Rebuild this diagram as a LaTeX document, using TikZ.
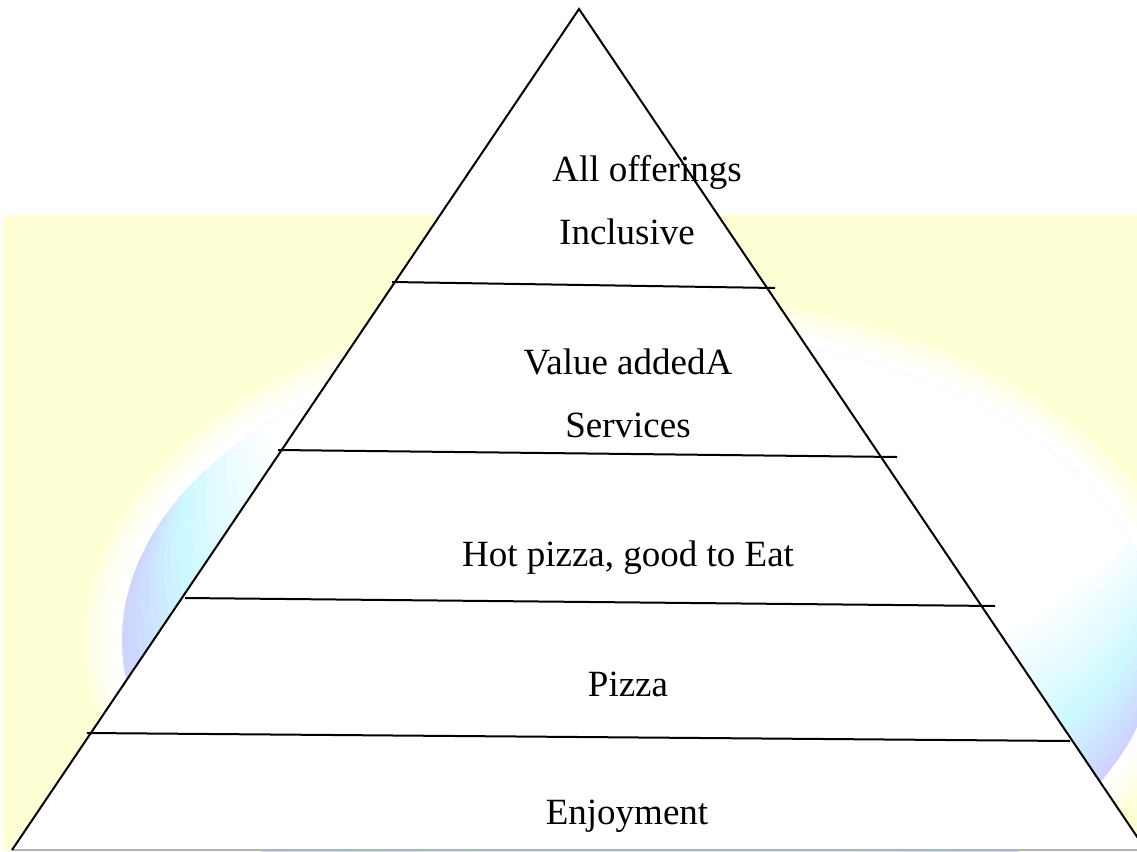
\documentclass[tikz,border=0pt]{standalone}
\usepackage{fontspec}
\setmainfont{Liberation Serif}
\usepackage{tikz}

\definecolor{paleyellow}{RGB}{255,255,214}
\definecolor{globecyan}{RGB}{204,248,255}
\definecolor{globeblue}{RGB}{206,212,255}

\begin{document}
\begin{tikzpicture}[x=1pt, y=-1pt,
    tier/.style={font=\fontsize{37}{44}\selectfont, anchor=base, inner sep=0pt},
    rule/.style={line width=2pt, black}]
    \useasboundingbox (0,0) rectangle (1137,851);
    \clip (0,0) rectangle (1137,851);

    % backdrop
    \fill[paleyellow] (3,215) rectangle (1137,851);
    \foreach \k in {1,...,6}
        \fill[white, opacity=0.25] (640,640) ellipse [x radius={530+4*\k}, y radius={320+4*\k}];
    \fill[white] (640,640) ellipse [x radius=530, y radius=320];
    \begin{scope}
        \clip (640,640) ellipse [x radius=518, y radius=310];
        \foreach \k in {0,...,20} {
            \pgfmathsetmacro{\t}{\k/20}
            \pgfmathsetmacro{\cx}{640+80*\t}
            \pgfmathsetmacro{\cy}{640-240*\t}
            \pgfmathsetmacro{\rx}{518-58*\t}
            \pgfmathsetmacro{\ry}{310-10*\t}
            \pgfmathtruncatemacro{\toC}{min(100,\t*250)}
            \pgfmathtruncatemacro{\toW}{max(0,(\t-0.4)*166)}
            \colorlet{ringtone}{globecyan!\toC!globeblue}
            \fill[white!\toW!ringtone] (\cx,\cy) ellipse [x radius=\rx, y radius=\ry];
        }
    \end{scope}

    % pyramid
    \coordinate (apex) at (579,9);
    \coordinate (baseL) at (12,850);
    \coordinate (baseR) at (1146,850);
    \fill[white] (apex) -- (baseL) -- (baseR) -- cycle;
    \draw[line width=2pt, gray!60] (baseL) -- (baseR);
    \draw[rule] (baseL) -- (apex) -- (baseR);

    \draw[rule] (392,282) -- (775,288);
    \draw[rule] (278,450) -- (897,457);
    \draw[rule] (185,598) -- (995,606);
    \draw[rule] (87,733) -- (1070,741);

    \node[tier] (offer) at (647,181) {All offerings};
    \node[tier] (incl) at (627,244) {Inclusive};
    \node[tier] (value) at (628,374) {Value addedA};
    \node[tier] (serv) at (628,437) {Services};
    \node[tier] (hot) at (628,566) {Hot pizza, good to Eat};
    \node[tier] (pizza) at (628,696) {Pizza};
    \node[tier] (enjoy) at (627,824) {Enjoyment};

\end{tikzpicture}
\end{document}
